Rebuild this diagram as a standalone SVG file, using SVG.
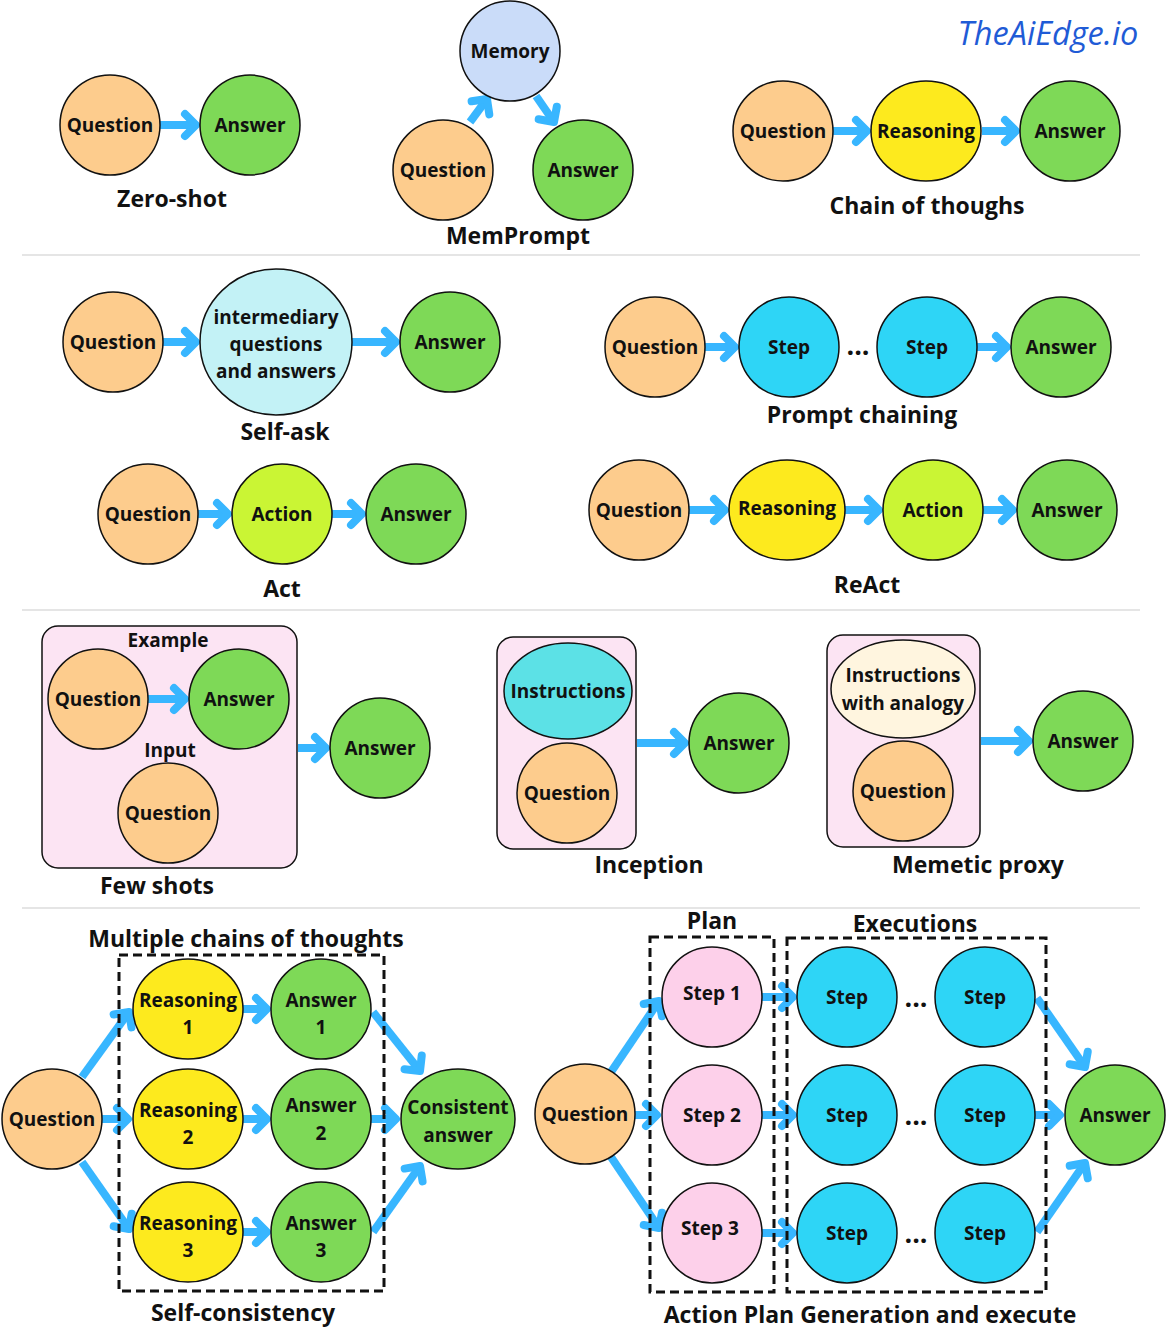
<svg xmlns="http://www.w3.org/2000/svg" width="1166" height="1328" viewBox="0 0 1166 1328">
<style>
text{font-family:"Open Sans","Noto Sans","Liberation Sans",sans-serif;font-weight:700;fill:#111;text-anchor:middle}
.n{font-size:19px}
.t{font-size:23px}
.dots{font-size:27px}
.nd{stroke:#111;stroke-width:1.5}
.q{fill:#FDCC8D}.a{fill:#7ED957}.r{fill:#FDEA1E}.ac{fill:#CAF534}.st{fill:#2ED5F6}
.mem{fill:#CADCF9}.ia{fill:#C3F2F6}.ins{fill:#5CE1E6}.an{fill:#FFF5DF}.pk{fill:#FDD0EA}
.box{fill:#FCE4F3;stroke:#111;stroke-width:1.5}
.dash{fill:none;stroke:#111;stroke-width:3;stroke-dasharray:9 5}
.sep{stroke:#DDDDDD;stroke-width:1.5}
.arr{fill:none;stroke:#38B6FF;stroke-width:8;marker-end:url(#ah)}
</style>
<defs>
<marker id="ah" markerUnits="userSpaceOnUse" markerWidth="40" markerHeight="40" viewBox="-20 -20 40 40" refX="0" refY="0" orient="auto" overflow="visible">
<path d="M-11,-11 L0,0 L-11,11" fill="none" stroke="#38B6FF" stroke-width="8" stroke-linecap="round" stroke-linejoin="round"/>
</marker>
</defs>
<rect width="1166" height="1328" fill="#fff"/>

<text x="1048" y="45" style="font-family:'Open Sans','Noto Sans',sans-serif;font-weight:400;font-style:italic;font-size:32.5px;fill:#1F5BD6">TheAiEdge.io</text>

<g id="separators">
<line class="sep" x1="22" y1="255" x2="1140" y2="255"/>
<line class="sep" x1="22" y1="610" x2="1140" y2="610"/>
<line class="sep" x1="22" y1="908" x2="1140" y2="908"/>
</g>

<g id="fs-box"><rect class="box" x="42" y="626" width="255" height="242" rx="16"/>
<text class="n" x="168" y="647">Example</text><text class="n" x="170" y="757">Input</text></g>
<g id="inc-box"><rect class="box" x="497" y="637" width="139" height="212" rx="16"/></g>
<g id="mem-box"><rect class="box" x="827" y="635" width="153" height="212" rx="16"/></g>

<g id="connectors">
<path class="arr" d="M160,125 H196"/>
<path class="arr" d="M470,122 L487,99"/>
<path class="arr" d="M536,96 L554,122"/>
<path class="arr" d="M833,131 H867"/>
<path class="arr" d="M982,131 H1016"/>
<path class="arr" d="M163,342 H196"/>
<path class="arr" d="M352,342 H396"/>
<path class="arr" d="M705,347 H735"/>
<path class="arr" d="M977,347 H1007"/>
<path class="arr" d="M198,514 H228"/>
<path class="arr" d="M332,514 H362"/>
<path class="arr" d="M689,510 H725"/>
<path class="arr" d="M845,510 H879"/>
<path class="arr" d="M983,510 H1013"/>
<path class="arr" d="M148,699 H185"/>
<path class="arr" d="M298,748 H326"/>
<path class="arr" d="M637,743 H685"/>
<path class="arr" d="M981,741 H1029"/>
<path class="arr" d="M82,1077 L129,1012"/>
<path class="arr" d="M102,1119 H128"/>
<path class="arr" d="M82,1162 L129,1229"/>
<path class="arr" d="M243,1009 H267"/>
<path class="arr" d="M243,1119 H267"/>
<path class="arr" d="M243,1232 H267"/>
<path class="arr" d="M373,1012 L420,1071"/>
<path class="arr" d="M371,1119 H396"/>
<path class="arr" d="M373,1232 L420,1166"/>
<path class="arr" d="M611,1072 L659,1001"/>
<path class="arr" d="M635,1115 H657"/>
<path class="arr" d="M611,1157 L659,1228"/>
<path class="arr" d="M762,997 H793"/>
<path class="arr" d="M762,1115 H793"/>
<path class="arr" d="M762,1233 H793"/>
<path class="arr" d="M1037,998 L1085,1067"/>
<path class="arr" d="M1035,1115 H1060"/>
<path class="arr" d="M1037,1232 L1085,1163"/>
</g>

<!-- Zero-shot -->
<g id="zs-question"><circle class="nd q" cx="110" cy="125" r="50"/><text class="n" x="110" y="132">Question</text></g>
<g id="zs-answer"><circle class="nd a" cx="250" cy="125" r="50"/><text class="n" x="250" y="132">Answer</text></g>
<text class="t" x="172" y="207">Zero-shot</text>

<!-- MemPrompt -->
<g id="mp-memory"><circle class="nd mem" cx="510" cy="51" r="50"/><text class="n" x="510" y="58">Memory</text></g>
<g id="mp-question"><circle class="nd q" cx="443" cy="170" r="50"/><text class="n" x="443" y="177">Question</text></g>
<g id="mp-answer"><circle class="nd a" cx="583" cy="170" r="50"/><text class="n" x="583" y="177">Answer</text></g>
<text class="t" x="518" y="244">MemPrompt</text>

<!-- Chain of thoughs -->
<g id="cot-question"><circle class="nd q" cx="783" cy="131" r="50"/><text class="n" x="783" y="138">Question</text></g>
<g id="cot-reasoning"><ellipse class="nd r" cx="926" cy="131" rx="55" ry="50"/><text class="n" x="926" y="138">Reasoning</text></g>
<g id="cot-answer"><circle class="nd a" cx="1070" cy="131" r="50"/><text class="n" x="1070" y="138">Answer</text></g>
<text class="t" x="927" y="214">Chain of thoughs</text>

<!-- Self-ask -->
<g id="sa-question"><circle class="nd q" cx="113" cy="342" r="50"/><text class="n" x="113" y="349">Question</text></g>
<g id="sa-inter"><ellipse class="nd ia" cx="276" cy="342" rx="76" ry="73"/>
<text class="n" x="276" y="324">intermediary</text><text class="n" x="276" y="351">questions</text><text class="n" x="276" y="378">and answers</text></g>
<g id="sa-answer"><circle class="nd a" cx="450" cy="342" r="50"/><text class="n" x="450" y="349">Answer</text></g>
<text class="t" x="285" y="440">Self-ask</text>

<!-- Prompt chaining -->
<g id="pc-question"><circle class="nd q" cx="655" cy="347" r="50"/><text class="n" x="655" y="354">Question</text></g>
<g id="pc-step1"><circle class="nd st" cx="789" cy="347" r="50"/><text class="n" x="789" y="354">Step</text></g>
<text class="dots" x="858" y="355">...</text>
<g id="pc-step2"><circle class="nd st" cx="927" cy="347" r="50"/><text class="n" x="927" y="354">Step</text></g>
<g id="pc-answer"><circle class="nd a" cx="1061" cy="347" r="50"/><text class="n" x="1061" y="354">Answer</text></g>
<text class="t" x="862" y="423">Prompt chaining</text>

<!-- Act -->
<g id="act-question"><circle class="nd q" cx="148" cy="514" r="50"/><text class="n" x="148" y="521">Question</text></g>
<g id="act-action"><circle class="nd ac" cx="282" cy="514" r="50"/><text class="n" x="282" y="521">Action</text></g>
<g id="act-answer"><circle class="nd a" cx="416" cy="514" r="50"/><text class="n" x="416" y="521">Answer</text></g>
<text class="t" x="282" y="597">Act</text>

<!-- ReAct -->
<g id="ra-question"><circle class="nd q" cx="639" cy="510" r="50"/><text class="n" x="639" y="517">Question</text></g>
<g id="ra-reasoning"><ellipse class="nd r" cx="787" cy="510" rx="58" ry="50"/><text class="n" x="787" y="515">Reasoning</text></g>
<g id="ra-action"><circle class="nd ac" cx="933" cy="510" r="50"/><text class="n" x="933" y="517">Action</text></g>
<g id="ra-answer"><circle class="nd a" cx="1067" cy="510" r="50"/><text class="n" x="1067" y="517">Answer</text></g>
<text class="t" x="867" y="593">ReAct</text>

<!-- Few shots -->
<g id="fs-question1"><circle class="nd q" cx="98" cy="699" r="50"/><text class="n" x="98" y="706">Question</text></g>
<g id="fs-answer1"><circle class="nd a" cx="239" cy="699" r="50"/><text class="n" x="239" y="706">Answer</text></g>
<g id="fs-question2"><circle class="nd q" cx="168" cy="813" r="50"/><text class="n" x="168" y="820">Question</text></g>
<g id="fs-answer"><circle class="nd a" cx="380" cy="748" r="50"/><text class="n" x="380" y="755">Answer</text></g>
<text class="t" x="157" y="894">Few shots</text>

<!-- Inception -->
<g id="inc-instructions"><ellipse class="nd ins" cx="568" cy="691" rx="64" ry="48"/><text class="n" x="568" y="698">Instructions</text></g>
<g id="inc-question"><ellipse class="nd q" cx="567" cy="793" rx="50" ry="50"/><text class="n" x="567" y="800">Question</text></g>
<g id="inc-answer"><circle class="nd a" cx="739" cy="743" r="50"/><text class="n" x="739" y="750">Answer</text></g>
<text class="t" x="649" y="873">Inception</text>

<!-- Memetic proxy -->
<g id="mem-instructions"><ellipse class="nd an" cx="903" cy="689" rx="72" ry="49"/>
<text class="n" x="903" y="682">Instructions</text><text class="n" x="903" y="710">with analogy</text></g>
<g id="mem-question"><ellipse class="nd q" cx="903" cy="791" rx="50" ry="50"/><text class="n" x="903" y="798">Question</text></g>
<g id="mem-answer"><circle class="nd a" cx="1083" cy="741" r="50"/><text class="n" x="1083" y="748">Answer</text></g>
<text class="t" x="978" y="873">Memetic proxy</text>

<!-- Self-consistency -->
<text class="t" x="246" y="947">Multiple chains of thoughts</text>
<rect class="dash" x="119" y="955" width="265" height="336"/>
<g id="sc-question"><circle class="nd q" cx="52" cy="1119" r="50"/><text class="n" x="52" y="1126">Question</text></g>
<g id="sc-reasoning1"><ellipse class="nd r" cx="188" cy="1009" rx="55" ry="50"/><text class="n" x="188" y="1007">Reasoning</text><text class="n" x="188" y="1034">1</text></g>
<g id="sc-reasoning2"><ellipse class="nd r" cx="188" cy="1119" rx="55" ry="50"/><text class="n" x="188" y="1117">Reasoning</text><text class="n" x="188" y="1144">2</text></g>
<g id="sc-reasoning3"><ellipse class="nd r" cx="188" cy="1232" rx="55" ry="50"/><text class="n" x="188" y="1230">Reasoning</text><text class="n" x="188" y="1257">3</text></g>
<g id="sc-answer1"><circle class="nd a" cx="321" cy="1009" r="50"/><text class="n" x="321" y="1007">Answer</text><text class="n" x="321" y="1034">1</text></g>
<g id="sc-answer2"><circle class="nd a" cx="321" cy="1119" r="50"/><text class="n" x="321" y="1112">Answer</text><text class="n" x="321" y="1140">2</text></g>
<g id="sc-answer3"><circle class="nd a" cx="321" cy="1232" r="50"/><text class="n" x="321" y="1230">Answer</text><text class="n" x="321" y="1257">3</text></g>
<g id="sc-consistent"><ellipse class="nd a" cx="458" cy="1119" rx="57" ry="50"/><text class="n" x="458" y="1114">Consistent</text><text class="n" x="458" y="1142">answer</text></g>
<text class="t" x="243" y="1321">Self-consistency</text>

<!-- Action Plan -->
<text class="t" x="712" y="929">Plan</text>
<text class="t" x="915" y="932">Executions</text>
<rect class="dash" x="650" y="937" width="124" height="355"/>
<rect class="dash" x="787" y="938" width="259" height="354"/>
<g id="ap-question"><circle class="nd q" cx="585" cy="1114" r="50"/><text class="n" x="585" y="1121">Question</text></g>
<g id="ap-step1"><circle class="nd pk" cx="712" cy="997" r="50"/><text class="n" x="712" y="1000">Step 1</text></g>
<g id="ap-step2"><circle class="nd pk" cx="712" cy="1115" r="50"/><text class="n" x="712" y="1122">Step 2</text></g>
<g id="ap-step3"><circle class="nd pk" cx="712" cy="1233" r="50"/><text class="n" x="710" y="1235">Step 3</text></g>
<g id="ap-exec1a"><circle class="nd st" cx="847" cy="997" r="50"/><text class="n" x="847" y="1004">Step</text></g>
<g id="ap-exec1b"><circle class="nd st" cx="985" cy="997" r="50"/><text class="n" x="985" y="1004">Step</text></g>
<g id="ap-exec2a"><circle class="nd st" cx="847" cy="1115" r="50"/><text class="n" x="847" y="1122">Step</text></g>
<g id="ap-exec2b"><circle class="nd st" cx="985" cy="1115" r="50"/><text class="n" x="985" y="1122">Step</text></g>
<g id="ap-exec3a"><circle class="nd st" cx="847" cy="1233" r="50"/><text class="n" x="847" y="1240">Step</text></g>
<g id="ap-exec3b"><circle class="nd st" cx="985" cy="1233" r="50"/><text class="n" x="985" y="1240">Step</text></g>
<text class="dots" x="916" y="1007">...</text>
<text class="dots" x="916" y="1125">...</text>
<text class="dots" x="916" y="1243">...</text>
<g id="ap-answer"><circle class="nd a" cx="1115" cy="1115" r="50"/><text class="n" x="1115" y="1122">Answer</text></g>
<text class="t" x="870" y="1323">Action Plan Generation and execute</text>
</svg>
